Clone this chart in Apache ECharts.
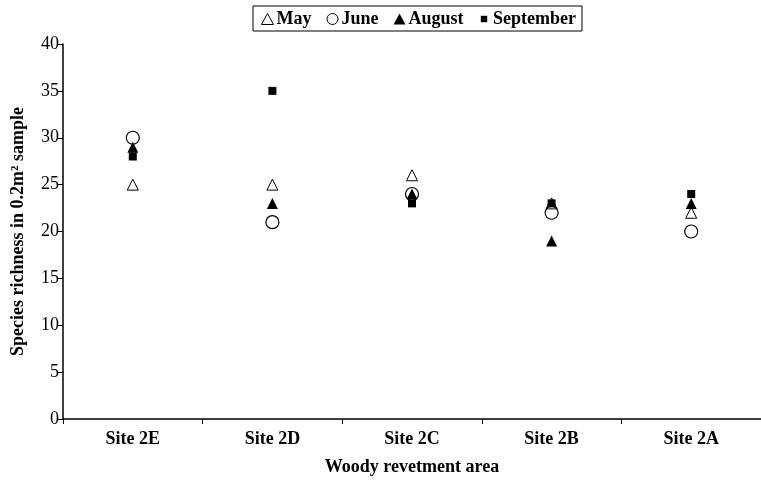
<!DOCTYPE html>
<html>
<head>
<meta charset="utf-8">
<script src="https://cdn.jsdelivr.net/npm/echarts@6/dist/echarts.min.js"></script>
<style>html,body{margin:0;padding:0;background:#fff}#c{width:761px;height:484px}</style>
</head>
<body>
<div id="c"></div>
<script>
var categories = ['Site 2E', 'Site 2D', 'Site 2C', 'Site 2B', 'Site 2A'];
var mayValues = [25, 25, 26, 23, 22];
var juneValues = [30, 21, 24, 22, 20];
var augustValues = [29, 23, 24, 19, 23];
var septemberValues = [28, 35, 23, 23, 24];
var yTicks = [0, 5, 10, 15, 20, 25, 30, 35, 40];

var font = '"Liberation Serif", "Times New Roman", serif';
var smallSquare = 'path://M0,0M12,12M2.5,2.5L9.5,2.5L9.5,9.5L2.5,9.5Z';
var chart = echarts.init(document.getElementById('c'), null, {renderer: 'canvas'});
chart.setOption({
  backgroundColor: '#fff',
  animation: false,
  textStyle: {fontFamily: font, color: '#000'},
  legend: {
    top: 6, left: 253,
    padding: [4, 6, 3, 8],
    itemGap: 15, itemWidth: 12, itemHeight: 11,
    borderColor: '#000', borderWidth: 1,
    textStyle: {fontFamily: font, fontWeight: 'bold', fontSize: 18, color: '#000', padding: [0, 0, 0, -2]},
    data: [
      {name: 'May', icon: 'triangle', itemStyle: {color: '#fff', borderColor: '#000', borderWidth: 1}},
      {name: 'June', icon: 'circle', itemStyle: {color: '#fff', borderColor: '#000', borderWidth: 1}},
      {name: 'August', icon: 'triangle', itemStyle: {color: '#000'}},
      {name: 'September', icon: smallSquare, itemStyle: {color: '#000'}}
    ]
  },
  grid: {left: 63, right: 0, top: 44, bottom: 65},
  xAxis: {
    type: 'category',
    data: categories,
    boundaryGap: true,
    name: 'Woody revetment area',
    nameLocation: 'middle',
    nameGap: 39,
    nameTextStyle: {fontFamily: font, fontWeight: 'bold', fontSize: 18, color: '#000'},
    axisLine: {lineStyle: {color: '#000', width: 1.5}},
    axisTick: {show: true, interval: 0, length: 5, lineStyle: {color: '#000'}},
    axisLabel: {fontFamily: font, fontWeight: 'bold', fontSize: 18, color: '#000', margin: 11}
  },
  yAxis: {
    type: 'value',
    min: yTicks[0], max: yTicks[yTicks.length - 1], interval: 5,
    name: 'Species richness in 0.2m\u00b2 sample',
    nameLocation: 'middle',
    nameGap: 36,
    nameTextStyle: {fontFamily: font, fontWeight: 'bold', fontSize: 18, color: '#000'},
    axisLine: {show: true, lineStyle: {color: '#000', width: 1.5}},
    axisTick: {show: true, length: 5, lineStyle: {color: '#000'}},
    splitLine: {show: false},
    axisLabel: {fontFamily: font, fontSize: 18, color: '#000', margin: 4}
  },
  series: [
    {name: 'May', type: 'scatter', data: mayValues, symbol: 'triangle', symbolSize: 11,
     itemStyle: {color: '#fff', borderColor: '#000', borderWidth: 1, opacity: 1}},
    {name: 'June', type: 'scatter', data: juneValues, symbol: 'circle', symbolSize: 13,
     itemStyle: {color: 'rgba(255,255,255,0)', borderColor: '#000', borderWidth: 1.2, opacity: 1}},
    {name: 'August', type: 'scatter', data: augustValues, symbol: 'triangle', symbolSize: 11,
     itemStyle: {color: '#000', opacity: 1}},
    {name: 'September', type: 'scatter', data: septemberValues, symbol: 'rect', symbolSize: 8,
     itemStyle: {color: '#000', opacity: 1}}
  ]
});
</script>
</body>
</html>
